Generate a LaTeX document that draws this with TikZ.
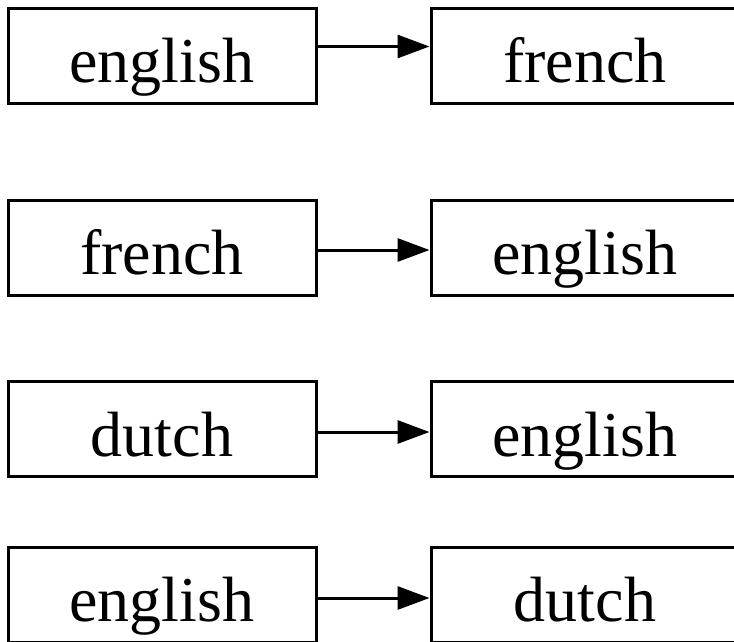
\documentclass[tikz,border=0pt]{standalone}
\usepackage{fontspec}
\setmainfont{Liberation Serif}
\usetikzlibrary{arrows.meta, positioning}

\begin{document}
\begin{tikzpicture}[
    x=1pt, y=1pt,
    node distance=112pt,
    box/.style={rectangle, draw, line width=3pt, minimum width=308pt, minimum height=95pt,
        inner sep=0pt, text height=60pt, text depth=6pt, align=center,
        font=\fontsize{64}{64}\selectfont},
    arrow/.style={-{Triangle[length=32pt, width=23pt]}, line width=3pt}
]
\useasboundingbox (0,0) rectangle (734,-641);
\node[box] (en1) at (162,-55.5) {english};
\node[box, right=of en1] (fr1) {french};
\node[box] (fr2) at (162,-247.5) {french};
\node[box, right=of fr2] (en2) {english};
\node[box] (nl3) at (162,-429) {dutch};
\node[box, right=of nl3] (en3) {english};
\node[box] (en4) at (162,-594.5) {english};
\node[box, right=of en4] (nl4) {dutch};

\draw[arrow] ([yshift=9pt]en1.east) -- ([yshift=9pt]fr1.west);
\draw[arrow] ([yshift=-2.5pt]fr2.east) -- ([yshift=-2.5pt]en2.west);
\draw[arrow] ([yshift=-3pt]nl3.east) -- ([yshift=-3pt]en3.west);
\draw[arrow] ([yshift=-3.5pt]en4.east) -- ([yshift=-3.5pt]nl4.west);
\end{tikzpicture}
\end{document}
